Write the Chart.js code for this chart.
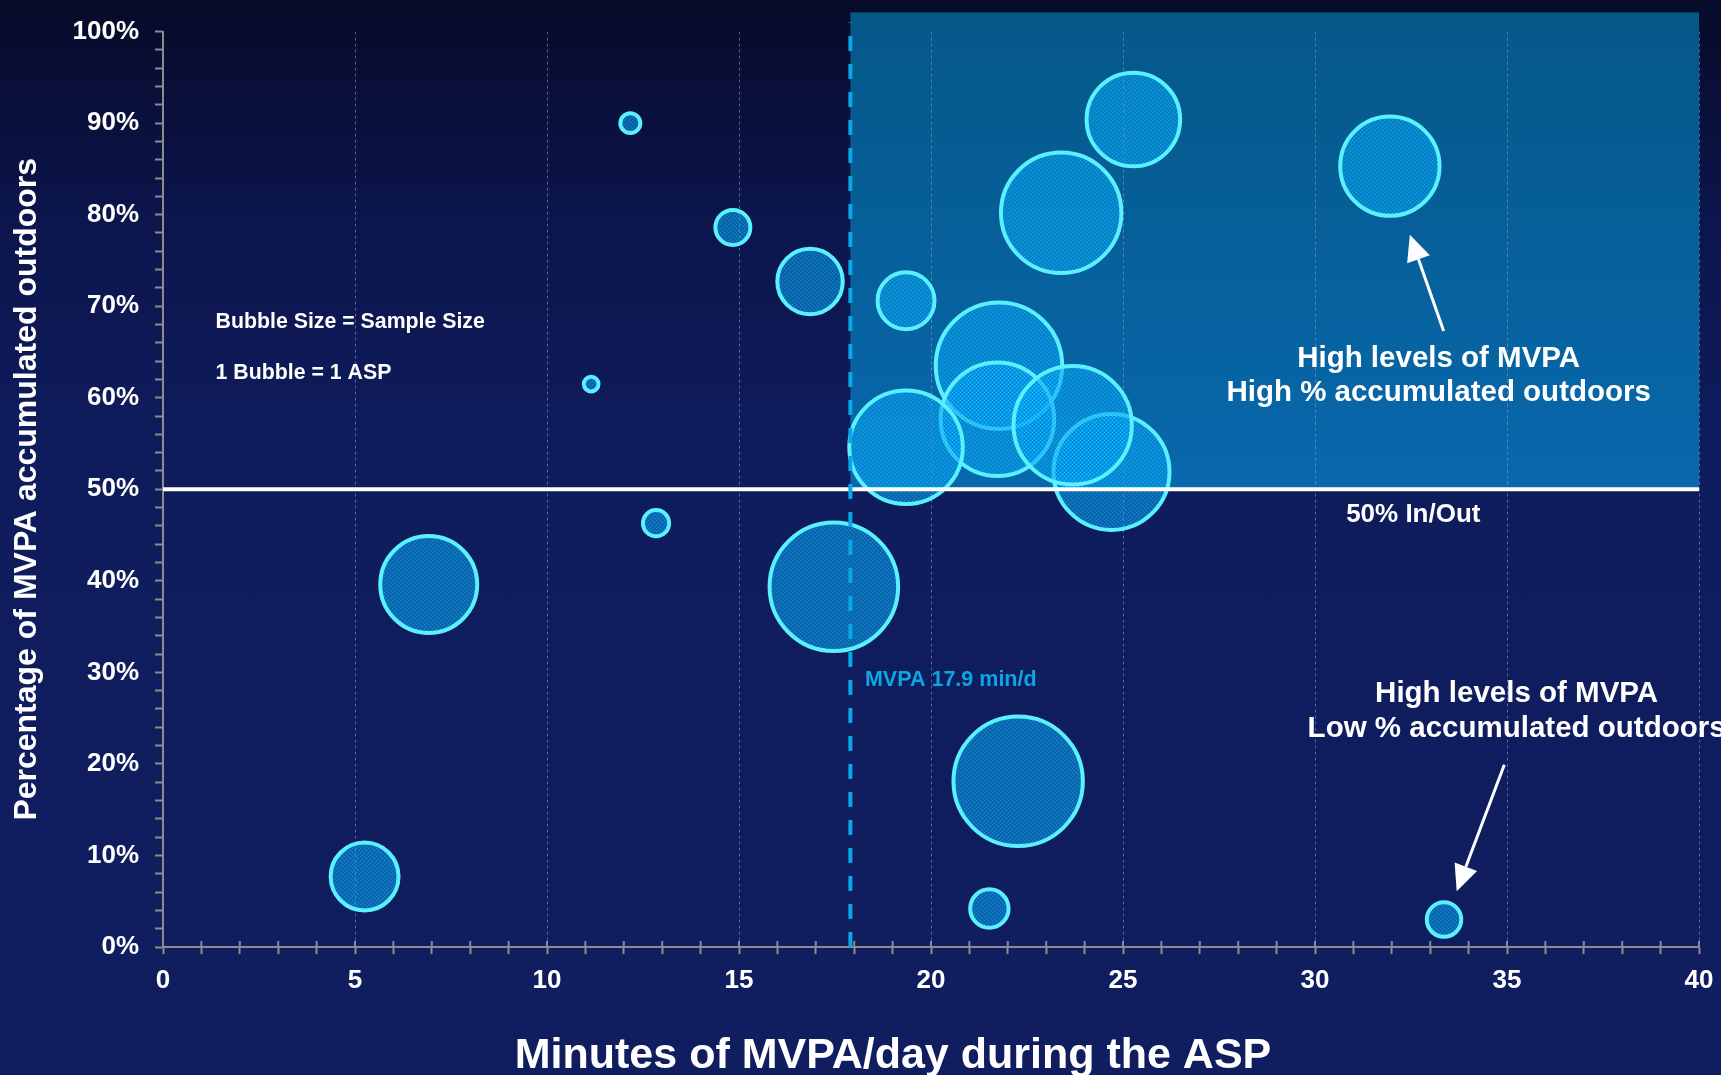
<!DOCTYPE html>
<html lang="en">
<head>
<meta charset="UTF-8">
<title>MVPA accumulated outdoors - bubble chart</title>
<script src="https://cdn.jsdelivr.net/npm/chart.js"></script>
<style>
    html, body { margin: 0; padding: 0; }
    body {
        width: 1721px;
        height: 1075px;
        overflow: hidden;
        background: linear-gradient(to bottom, #070b29 0%, #0c154c 20%, #0f1c5c 40%, #101e60 100%);
    }
    canvas { display: block; }
</style>
</head>
<body>
<canvas id="bubbleChart" width="1721" height="1075"></canvas>
<script>
    // one bubble = one after-school programme (ASP)
    const minutesMVPA = [12.17, 14.84, 16.85, 19.35, 11.15, 25.27, 23.39, 31.95, 21.77, 21.73,
                         24.70, 23.69, 19.35, 12.84, 6.92, 17.47, 22.27, 5.25, 21.52, 33.36];
    const pctOutdoors = [90.0, 78.6, 72.7, 70.6, 61.5, 90.4, 80.2, 85.3, 63.5, 57.65,
                         51.9, 57.0, 54.6, 46.3, 39.6, 39.35, 18.1, 7.7, 4.2, 3.0];
    const sampleSize  = [11, 34, 119, 90, 6, 243, 403, 274, 444, 358,
                         374, 389, 358, 19, 261, 459, 465, 128, 41, 33];

    const xTickLabels = [0, 5, 10, 15, 20, 25, 30, 35, 40];
    const yTickLabels = [0, 10, 20, 30, 40, 50, 60, 70, 80, 90, 100];

    const mvpaMean = 17.9;   // min/d
    const inOutCut = 50;     // % outdoors

    const FONT = 'Arial, "Liberation Sans", sans-serif';
    const axisGrey = '#8c8c8c';
    const mvpaBlue = '#0aa6e6';

    // text notes and arrows, placed in data units
    const notes = [
        {text: 'Bubble Size = Sample Size', x: 1.37, y: 68.3, size: 21.3, align: 'left'},
        {text: '1 Bubble = 1 ASP', x: 1.37, y: 62.7, size: 21.3, align: 'left'},
        {text: 'High levels of MVPA', x: 33.22, y: 64.3, size: 29.5},
        {text: 'High % accumulated outdoors', x: 33.22, y: 60.5, size: 29.5},
        {text: '50% In/Out', x: 32.56, y: 47.2, size: 26},
        {text: 'MVPA 17.9 min/d', x: 18.28, y: 29.2, size: 21.5, align: 'left', color: mvpaBlue},
        {text: 'High levels of MVPA', x: 35.25, y: 27.6, size: 29.5},
        {text: 'Low % accumulated outdoors', x: 35.25, y: 23.8, size: 29.5}
    ];
    const arrows = [
        {from: [33.35, 67.3], to: [32.47, 77.8]},
        {from: [34.93, 19.9], to: [33.69, 6.1]}
    ];

    // dotted fill like the original bubbles
    function bubblePattern() {
        const tile = document.createElement('canvas');
        tile.width = 4; tile.height = 4;
        const t = tile.getContext('2d');
        t.fillStyle = 'rgba(5,170,248,0.55)';
        t.fillRect(0, 0, 4, 4);
        t.fillStyle = 'rgba(70,205,255,0.35)';
        t.fillRect(0, 0, 1, 1);
        t.fillRect(2, 2, 1, 1);
        t.fillStyle = 'rgba(0,60,140,0.25)';
        t.fillRect(2, 0, 1, 1);
        t.fillRect(0, 2, 1, 1);
        return t.createPattern(tile, 'repeat');
    }

    function drawArrow(ctx, x1, y1, x2, y2) {
        const ang = Math.atan2(y2 - y1, x2 - x1);
        const head = 26, half = 12;
        const bx = x2 - head * Math.cos(ang), by = y2 - head * Math.sin(ang);
        ctx.beginPath();
        ctx.moveTo(x1, y1);
        ctx.lineTo(bx, by);
        ctx.stroke();
        ctx.beginPath();
        ctx.moveTo(x2, y2);
        ctx.lineTo(bx + half * Math.sin(ang), by - half * Math.cos(ang));
        ctx.lineTo(bx - half * Math.sin(ang), by + half * Math.cos(ang));
        ctx.closePath();
        ctx.fill();
    }

    const overlay = {
        id: 'overlay',
        beforeDraw(chart) {
            // shaded "high / high" quadrant
            const {ctx, scales: {x, y}} = chart;
            const left = x.getPixelForValue(mvpaMean), right = x.getPixelForValue(x.max);
            const top = y.getPixelForValue(102.1), bottom = y.getPixelForValue(inOutCut);
            const g = ctx.createLinearGradient(0, top, 0, bottom);
            g.addColorStop(0, '#055888');
            g.addColorStop(1, '#0868ad');
            ctx.save();
            ctx.fillStyle = g;
            ctx.fillRect(left, top, right - left, bottom - top);
            ctx.restore();
        },
        afterDatasetsDraw(chart) {
            const {ctx, chartArea, scales: {x, y}} = chart;
            ctx.save();

            // 50% in/out line
            ctx.strokeStyle = '#ffffff';
            ctx.lineWidth = 4;
            ctx.beginPath();
            ctx.moveTo(x.getPixelForValue(x.min), y.getPixelForValue(inOutCut));
            ctx.lineTo(x.getPixelForValue(x.max), y.getPixelForValue(inOutCut));
            ctx.stroke();

            // mean MVPA line
            ctx.strokeStyle = mvpaBlue;
            ctx.setLineDash([15, 13]);
            ctx.beginPath();
            ctx.moveTo(x.getPixelForValue(mvpaMean), y.getPixelForValue(0));
            ctx.lineTo(x.getPixelForValue(mvpaMean), y.getPixelForValue(101));
            ctx.stroke();
            ctx.setLineDash([]);

            // x tick marks also stick up above the axis
            ctx.strokeStyle = axisGrey;
            ctx.lineWidth = 2;
            x.ticks.forEach(t => {
                const px = x.getPixelForValue(t.value);
                ctx.beginPath();
                ctx.moveTo(px, chartArea.bottom);
                ctx.lineTo(px, chartArea.bottom - 6);
                ctx.stroke();
            });

            // notes
            ctx.textBaseline = 'middle';
            notes.forEach(n => {
                ctx.font = 'bold ' + n.size + 'px ' + FONT;
                ctx.fillStyle = n.color || '#ffffff';
                ctx.textAlign = n.align || 'center';
                ctx.fillText(n.text, x.getPixelForValue(n.x), y.getPixelForValue(n.y));
            });

            // arrows
            ctx.strokeStyle = '#ffffff';
            ctx.fillStyle = '#ffffff';
            ctx.lineWidth = 3;
            arrows.forEach(a => {
                drawArrow(ctx, x.getPixelForValue(a.from[0]), y.getPixelForValue(a.from[1]),
                          x.getPixelForValue(a.to[0]), y.getPixelForValue(a.to[1]));
            });

            // x axis title (sits left of centre in the original)
            ctx.font = 'bold 43px ' + FONT;
            ctx.textAlign = 'center';
            ctx.textBaseline = 'alphabetic';
            ctx.fillText('Minutes of MVPA/day during the ASP', 893, 1068);
            ctx.restore();
        }
    };

    const points = minutesMVPA.map((m, i) => ({x: m, y: pctOutdoors[i], r: Math.sqrt(sampleSize[i]) * 3}));

    Chart.defaults.font.family = FONT;
    Chart.defaults.color = '#ffffff';

    new Chart(document.getElementById('bubbleChart'), {
        type: 'bubble',
        data: {
            datasets: [{
                label: 'ASP',
                data: points,
                backgroundColor: bubblePattern(),
                borderColor: '#5af0ff',
                borderWidth: 4,
                hoverRadius: 0
            }]
        },
        options: {
            responsive: false,
            devicePixelRatio: 1,
            animation: false,
            events: [],
            layout: {autoPadding: false, padding: {top: 29, right: 22, left: 0, bottom: 0}},
            plugins: {legend: {display: false}, tooltip: {enabled: false}},
            scales: {
                x: {
                    type: 'linear',
                    min: 0,
                    max: 40,
                    afterFit(scale) {
                        scale.height = 128;
                        scale.paddingRight = 0;
                        scale.paddingLeft = 0;
                    },
                    ticks: {
                        stepSize: 1,
                        autoSkip: false,
                        maxRotation: 0,
                        padding: 11,
                        color: '#ffffff',
                        font: {size: 26, weight: 'bold'},
                        callback: v => xTickLabels.includes(v) ? String(v) : ''
                    },
                    grid: {
                        color: c => (c.tick && c.tick.value > 0 && c.tick.value % 5 === 0) ? 'rgba(150,160,205,0.55)' : 'transparent',
                        lineWidth: 1,
                        tickColor: axisGrey,
                        tickWidth: 2,
                        tickLength: 7
                    },
                    border: {color: axisGrey, width: 2, dash: [3, 3]},
                    title: {display: false}
                },
                y: {
                    min: 0,
                    max: 100,
                    afterFit(scale) { scale.width = 163; },
                    ticks: {
                        stepSize: 2,
                        autoSkip: false,
                        padding: 16,
                        color: '#ffffff',
                        font: {size: 26, weight: 'bold'},
                        callback: v => yTickLabels.includes(v) ? v + '%' : ''
                    },
                    grid: {
                        drawOnChartArea: false,
                        tickColor: axisGrey,
                        tickWidth: 2,
                        tickLength: 8
                    },
                    border: {color: axisGrey, width: 2},
                    title: {
                        display: true,
                        text: 'Percentage of MVPA accumulated outdoors',
                        color: '#ffffff',
                        font: {size: 32, weight: 'bold'},
                        padding: {top: 8, bottom: 0}
                    }
                }
            }
        },
        plugins: [overlay]
    });
</script>
</body>
</html>
